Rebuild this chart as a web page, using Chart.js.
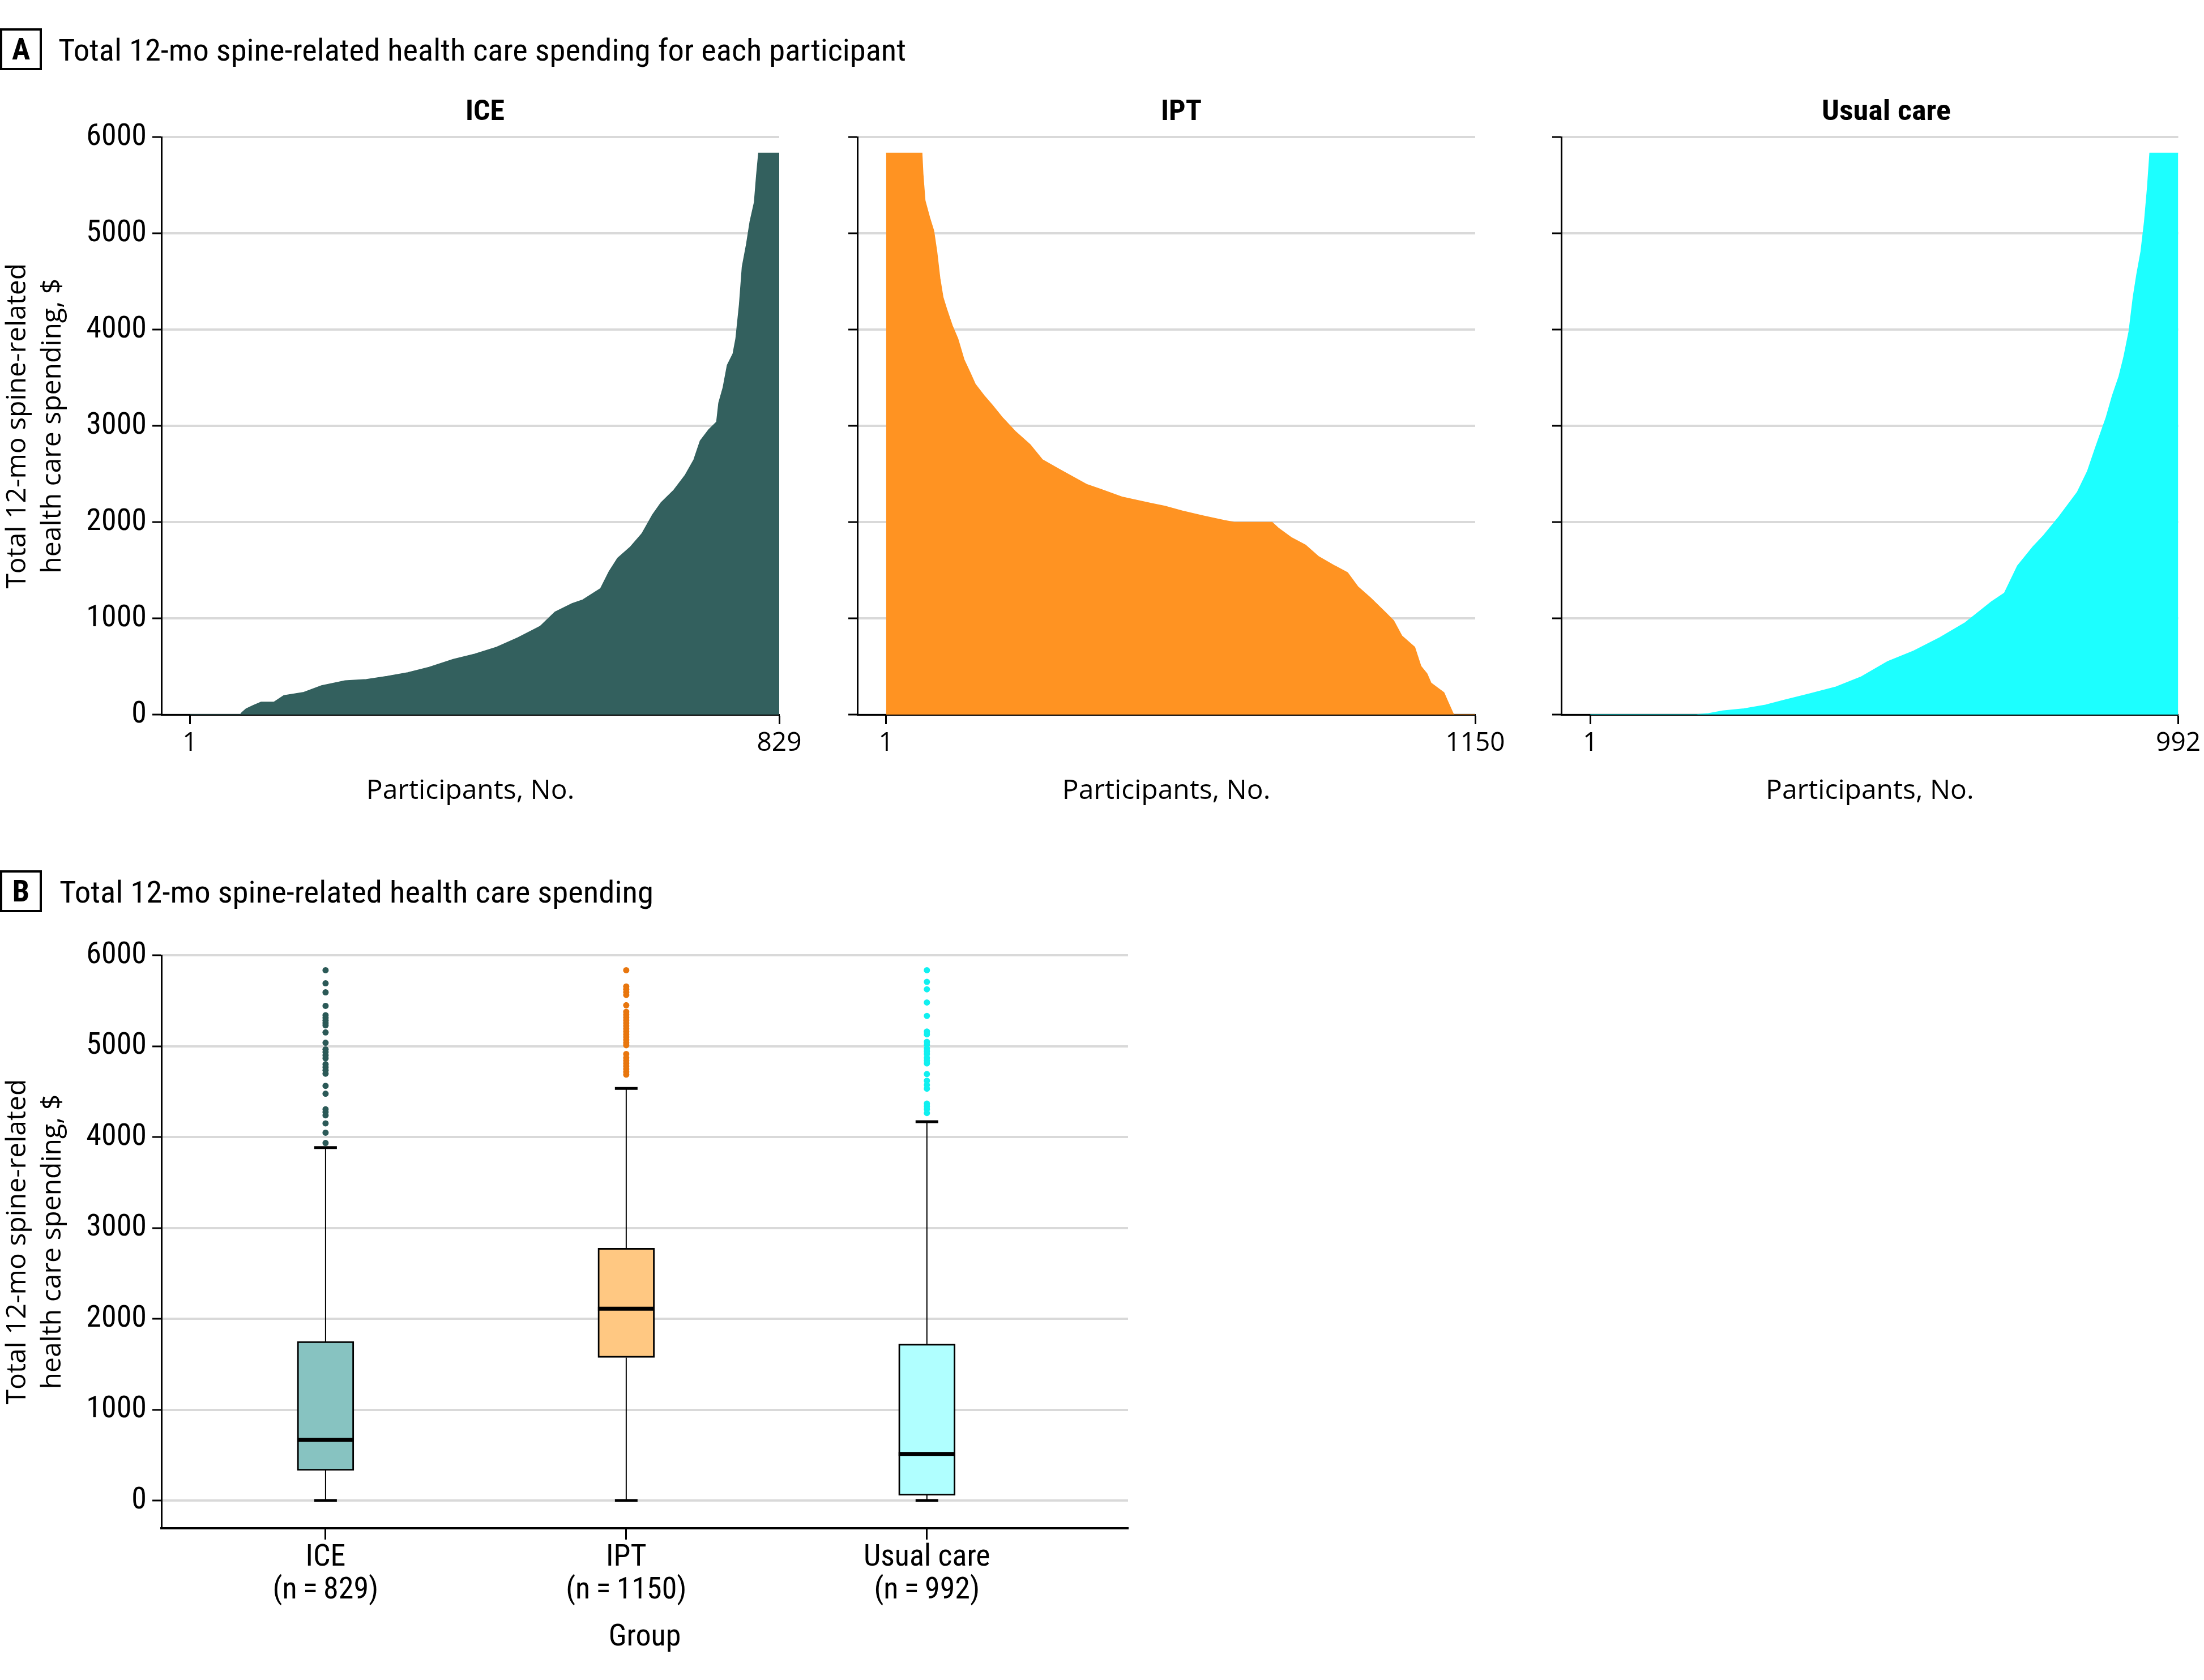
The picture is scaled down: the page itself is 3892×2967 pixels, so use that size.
<!DOCTYPE html>
<html>
<head>
<meta charset="utf-8">
<script src="https://cdn.jsdelivr.net/npm/chart.js@4.4.1/dist/chart.umd.min.js"></script>
<style>
html,body{margin:0;padding:0;background:#fff;}
body{width:3892px;height:2967px;position:relative;overflow:hidden;}
canvas{position:absolute;}
.pbox{position:absolute;box-sizing:border-box;width:74px;height:74px;border:4px solid #000;font-weight:bold;font-size:54px;line-height:66px;text-align:center;color:#000;}
.txt{position:absolute;white-space:nowrap;color:#000;transform-origin:0 0;line-height:1;}
</style>
</head>
<body>
<div id="boxA" class="pbox" style="left:0;top:50px;">A</div>
<div id="titleA" class="txt" style="left:103px;top:62px;font-size:54px;">Total 12-mo spine-related health care spending for each participant</div>
<div id="subICE" class="txt" style="top:170px;font-size:50px;font-weight:bold;">ICE</div>
<div id="subIPT" class="txt" style="top:170px;font-size:50px;font-weight:bold;">IPT</div>
<div id="subUC" class="txt" style="top:170px;font-size:50px;font-weight:bold;">Usual care</div>
<canvas id="cICE"></canvas>
<canvas id="cIPT"></canvas>
<canvas id="cUC"></canvas>
<div id="boxB" class="pbox" style="left:0;top:1537px;">B</div>
<div id="titleB" class="txt" style="left:105px;top:1549px;font-size:54px;">Total 12-mo spine-related health care spending</div>
<canvas id="cBox"></canvas>
<script>
// ---------------- data ----------------
const groups = ['ICE', 'IPT', 'Usual care'];
const groupN = [829, 1150, 992];
const yTicks = [0, 1000, 2000, 3000, 4000, 5000, 6000];
const yTitle = ['Total 12-mo spine-related', 'health care spending, $'];

// Panel A: sorted spending per participant as [participant no., $]
const iceCurve = [[1,0],[72,0],[74,20],[80,60],[90,95],[101,129],[119,129],[133,198],[160,229],[186,300],[205,330],[219,351],[249,365],[278,398],[307,436],[337,492],[371,574],[401,629],[432,700],[462,799],[493,917],[514,1066],[538,1153],[553,1192],[578,1310],[590,1487],[602,1625],[620,1743],[636,1880],[651,2077],[663,2203],[681,2333],[697,2490],[709,2648],[718,2844],[730,2962],[741,3041],[744,3238],[750,3395],[756,3631],[764,3749],[768,3906],[773,4261],[777,4654],[783,4890],[788,5126],[794,5323],[797,5598],[800,5834],[829,5834]];
const iptCurve = [[1,5834],[71,5834],[73,5618],[77,5342],[86,5165],[94,5028],[100,4811],[106,4536],[112,4339],[120,4201],[130,4044],[141,3906],[153,3690],[165,3552],[175,3434],[192,3316],[208,3218],[229,3080],[253,2943],[282,2805],[306,2648],[339,2549],[392,2392],[420,2341],[461,2262],[518,2195],[545,2165],[578,2117],[619,2065],[660,2018],[680,1998],[754,1998],[766,1939],[791,1841],[819,1762],[844,1644],[876,1546],[901,1475],[921,1330],[946,1212],[974,1066],[991,976],[1007,818],[1032,700],[1044,504],[1056,425],[1064,327],[1089,228],[1097,130],[1107,12],[1109,0],[1150,0]];
const ucCurve = [[1,0],[180,0],[200,10],[224,38],[260,61],[296,99],[327,149],[371,216],[415,287],[458,393],[502,551],[546,661],[590,799],[633,956],[677,1172],[699,1263],[721,1546],[747,1743],[765,1861],[791,2057],[822,2313],[839,2530],[852,2766],[870,3080],[881,3316],[892,3513],[900,3710],[909,3985],[916,4339],[922,4575],[929,4811],[935,5126],[940,5480],[944,5834],[992,5834]];

// Panel B: box plot statistics ($)
const boxQ1 = [331, 1574, 57];
const boxMedian = [667, 2110, 513];
const boxQ3 = [1751, 2777, 1722];
const whiskerLow = [0, 0, 0];
const whiskerHigh = [3884, 4534, 4169];
const iceOutliers = [5835,5691,5592,5443,5340,5311,5282,5254,5229,5151,5037,4965,4934,4899,4866,4800,4767,4734,4697,4563,4476,4305,4274,4239,4150,4047,3934];
const iptOutliers = [5835,5656,5625,5594,5563,5450,5377,5346,5315,5284,5254,5223,5192,5161,5130,5099,5068,5037,5010,4913,4872,4841,4810,4779,4748,4717,4687];
const ucOutliers = [5835,5707,5625,5480,5332,5161,5130,5047,5016,4975,4944,4913,4872,4841,4810,4693,4619,4573,4532,4367,4336,4305,4264];

// ---------------- styles ----------------
const curveColors = ['#33605e', '#ff9322', '#1cffff'];
const boxFill = ['#87c3c1', '#ffc882', '#b0ffff'];
const outlierColors = ['#2b5957', '#e8760e', '#10f0f0'];
const GRID = '#d9d9d9';

function fontAvailable(name) {
  const ctx = document.createElement('canvas').getContext('2d');
  const s = 'Total 12-mo spine-related 0123456789';
  for (const base of ['monospace', 'serif']) {
    ctx.font = '40px ' + base; const w1 = ctx.measureText(s).width;
    ctx.font = '40px "' + name + '", ' + base; const w2 = ctx.measureText(s).width;
    if (Math.abs(w1 - w2) > 0.5) return true;
  }
  return false;
}
const condCandidates = ['Roboto Condensed', 'Liberation Sans Narrow', 'Open Sans Condensed', 'DejaVu Sans Condensed'];
const COND_NAME = condCandidates.find(fontAvailable) || 'Liberation Sans';
const COND = '"' + COND_NAME + '", "Liberation Sans", sans-serif';
const REG = '"Open Sans", "Noto Sans", sans-serif';

// HTML headings
document.querySelectorAll('.pbox').forEach(e => e.style.fontFamily = COND);
function fitLeft(id, target) {
  const el = document.getElementById(id);
  el.style.fontFamily = COND;
  const w = el.getBoundingClientRect().width;
  el.style.transform = 'scaleX(' + (target / w) + ')';
}
function fitCenter(id, cx, target) {
  const el = document.getElementById(id);
  el.style.fontFamily = COND;
  const w = el.getBoundingClientRect().width;
  el.style.left = (cx - target / 2) + 'px';
  el.style.transform = 'scaleX(' + (target / w) + ')';
}
fitLeft('titleA', 1497);
fitLeft('titleB', 1049);
fitCenter('subICE', 856, 69);
fitCenter('subIPT', 2086, 72);
fitCenter('subUC', 3331, 228);

Chart.defaults.font.family = REG;
Chart.defaults.color = '#000';

function curveChart(id, left, width, yAxisW, padRight, curve, color, xMin, xLast, showY) {
  const cv = document.getElementById(id);
  cv.width = width; cv.height = 1250;
  cv.style.cssText = 'left:' + left + 'px;top:200px;width:' + width + 'px;height:1250px;';
  return new Chart(cv, {
    type: 'line',
    data: { datasets: [{
      data: curve.map(p => ({ x: p[0], y: p[1] })),
      fill: 'origin', backgroundColor: color, borderColor: color,
      borderWidth: 1.5, pointRadius: 0, tension: 0
    }] },
    options: {
      responsive: false, animation: false, devicePixelRatio: 1,
      layout: { padding: { top: 41, right: padRight, left: 0, bottom: 0 } },
      plugins: { legend: { display: false }, tooltip: { enabled: false } },
      scales: {
        x: {
          type: 'linear', min: xMin, max: xLast, z: 1,
          afterBuildTicks: s => { s.ticks = [{ value: 1 }, { value: xLast }]; },
          afterFit: s => { s.height = 188; },
          grid: { drawOnChartArea: false, drawTicks: true, tickLength: 17, tickWidth: 3, tickColor: '#000' },
          border: { color: '#000', width: 3 },
          ticks: { color: '#000', font: { family: REG, size: 46, lineHeight: 1.2 }, padding: 6, maxRotation: 0, autoSkip: false, callback: v => String(v) },
          title: { display: true, text: 'Participants, No.', color: '#000', font: { family: REG, size: 48, lineHeight: 1.2 }, padding: { top: 0, bottom: 24 } }
        },
        y: {
          type: 'linear', min: 0, max: 6000,
          afterBuildTicks: s => { s.ticks = yTicks.map(v => ({ value: v })); },
          afterFit: s => { s.width = yAxisW; },
          grid: { color: GRID, lineWidth: 4, tickLength: 16, tickWidth: 3, tickColor: '#000' },
          border: { color: '#000', width: 3 },
          ticks: { color: '#000', font: { family: COND, size: 54 }, padding: 10, callback: v => showY ? String(v) : '' },
          title: { display: showY, text: yTitle, color: '#000', font: { family: REG, size: 48, lineHeight: 1.3 }, padding: 0 }
        }
      }
    }
  });
}

curveChart('cICE', 0, 1460, 285, 84, iceCurve, curveColors[0], -39, 829, true);
curveChart('cIPT', 1414, 1251, 100, 60, iptCurve, curveColors[1], -55, 1150, false);
curveChart('cUC', 2657, 1235, 100, 44, ucCurve, curveColors[2], -48, 992, false);

// ---------------- Panel B ----------------
const whiskerPts = [];
groups.forEach((g, i) => {
  whiskerPts.push({ x: i + 1, y: whiskerLow[i] }, { x: i + 1, y: boxQ1[i] }, { x: i + 1, y: null },
                  { x: i + 1, y: boxQ3[i] }, { x: i + 1, y: whiskerHigh[i] }, { x: i + 1, y: null });
});
const capPts = [];
groups.forEach((g, i) => { capPts.push({ x: i + 1, y: whiskerLow[i] }, { x: i + 1, y: whiskerHigh[i] }); });
const medianPts = groups.map((g, i) => ({ x: i + 1, y: boxMedian[i] }));
const outlierSets = [iceOutliers, iptOutliers, ucOutliers];

const cvB = document.getElementById('cBox');
cvB.width = 2050; cvB.height = 1330;
cvB.style.cssText = 'left:0px;top:1630px;width:2050px;height:1330px;';
new Chart(cvB, {
  type: 'scatter',
  data: { datasets: [
    { type: 'line', data: whiskerPts, borderColor: '#000', borderWidth: 2, pointRadius: 0, spanGaps: false, fill: false, order: 5 },
    { type: 'bar', data: groups.map((g, i) => ({ x: i + 1, y: [boxQ1[i], boxQ3[i]] })), backgroundColor: boxFill, borderColor: '#000', borderWidth: 3, borderSkipped: false, barThickness: 100, order: 4 },
    { type: 'scatter', data: capPts, pointStyle: 'line', pointRadius: 20, pointBorderWidth: 5, pointBorderColor: '#000', order: 3 },
    { type: 'scatter', data: medianPts, pointStyle: 'line', pointRadius: 50, pointBorderWidth: 7, pointBorderColor: '#000', order: 2 },
    ...outlierSets.map((arr, i) => ({
      type: 'scatter', data: arr.map(v => ({ x: i + 1, y: v })), pointRadius: 5.5, pointBorderWidth: 0,
      pointBackgroundColor: outlierColors[i], pointBorderColor: outlierColors[i], order: 1
    }))
  ] },
  options: {
    responsive: false, animation: false, devicePixelRatio: 1,
    layout: { padding: { top: 48.7, right: 58, left: 0, bottom: 0 } },
    plugins: { legend: { display: false }, tooltip: { enabled: false } },
    scales: {
      x: {
        type: 'linear', min: 0.454, max: 3.669, offset: false, z: 1,
        afterBuildTicks: s => { s.ticks = groups.map((g, i) => ({ value: i + 1 })); },
        afterFit: s => { s.height = 261; },
        grid: { drawOnChartArea: false, drawTicks: true, tickLength: 20, tickWidth: 3, tickColor: '#000', offset: false },
        border: { color: '#000', width: 4 },
        ticks: { color: '#000', font: { family: COND, size: 54, lineHeight: 1.074 }, padding: 4, autoSkip: false, maxRotation: 0,
                 callback: (v, i) => [groups[i], '(n\u2009=\u2009' + groupN[i] + ')'] },
        title: { display: true, text: 'Group', color: '#000', font: { family: COND, size: 54, lineHeight: 1.2 }, padding: { top: 0, bottom: 35 } }
      },
      y: {
        type: 'linear', min: -305, max: 6000,
        afterBuildTicks: s => { s.ticks = yTicks.map(v => ({ value: v })); },
        afterFit: s => { s.width = 285; },
        grid: { color: GRID, lineWidth: 4, tickLength: 16, tickWidth: 3, tickColor: '#000' },
        border: { color: '#000', width: 3 },
        ticks: { color: '#000', font: { family: COND, size: 54 }, padding: 10, callback: v => String(v) },
        title: { display: true, text: yTitle, color: '#000', font: { family: REG, size: 48, lineHeight: 1.3 }, padding: 0 }
      }
    }
  }
});
</script>
</body>
</html>
